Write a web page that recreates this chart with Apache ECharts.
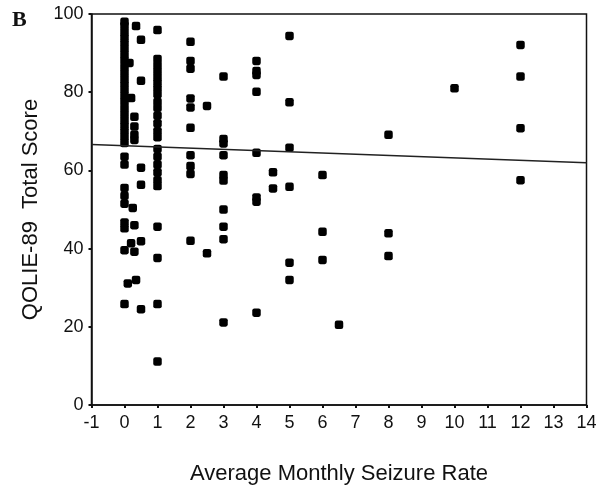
<!DOCTYPE html>
<html>
<head>
<meta charset="utf-8">
<script src="https://cdn.jsdelivr.net/npm/echarts@6/dist/echarts.min.js"></script>
<style>
html,body{margin:0;padding:0;background:#fff;}
#chart{width:598px;height:490px;}
</style>
</head>
<body>
<div id="chart"></div>
<script>
// Seizure-rate positions (x) and the QOLIE-89 scores plotted at each
const rates = [0, 0.1, 0.15, 0.2, 0.25, 0.3, 0.35, 0.5, 1, 2, 2.5, 3, 4, 4.5, 5, 6, 6.5, 8, 10, 12];
const scores0   = [98, 97, 95.5, 94, 92.5, 91, 89.5, 88, 86.5, 85, 83.5, 82, 80.5, 79, 77.5, 76, 74.5, 73, 71.5, 70, 68.5, 67, 63.5, 61.5, 55.5, 53.5, 51.5, 46.7, 45.2, 39.6, 25.8];
const scores0_1 = [31.1];
const scores0_15 = [87.5];
const scores0_2 = [78.5, 41.4];
const scores0_25 = [50.4];
const scores0_3 = [73.7, 71.2, 69.1, 67.8, 46.0, 39.2];
const scores0_35 = [96.9, 32.0];
const scores0_5 = [93.4, 82.9, 60.7, 56.3, 41.9, 24.5];
const scores1   = [95.9, 88.5, 87, 85.5, 84, 82.5, 81, 79.5, 77.5, 76, 74, 72, 70, 68.5, 65.5, 63.5, 61.5, 59.5, 57.5, 56, 45.6, 37.6, 25.8, 11.1];
const scores2   = [92.9, 88, 86, 78.4, 76.1, 70.9, 63.9, 61.1, 59.1, 42.0];
const scores2_5 = [76.5, 38.8];
const scores3   = [84.0, 68.0, 66.9, 63.9, 58.8, 57.4, 50.0, 45.6, 42.4, 21.1];
const scores4   = [88, 85.4, 84.4, 80.1, 64.5, 53.1, 52.0, 23.6];
const scores4_5 = [59.5, 55.4];
const scores5   = [94.4, 77.4, 65.8, 55.8, 36.4, 32.0];
const scores6   = [58.8, 44.3, 37.1];
const scores6_5 = [20.5];
const scores8   = [69.1, 43.9, 38.1];
const scores10  = [81.0];
const scores12  = [92.1, 84.0, 70.8, 57.5];
const scoreGroups = [scores0, scores0_1, scores0_15, scores0_2, scores0_25, scores0_3, scores0_35, scores0_5, scores1, scores2, scores2_5, scores3, scores4, scores4_5, scores5, scores6, scores6_5, scores8, scores10, scores12];

// Fitted regression line end points
const fitX = [-1, 14];
const fitY = [66.6, 61.95];

const xTicks = { min: -1, max: 14, interval: 1 };
const yTicks = { min: 0, max: 100, interval: 20 };

const points = [];
rates.forEach((r, i) => scoreGroups[i].forEach(s => points.push([r, s])));
const fitLine = fitX.map((x, i) => [x, fitY[i]]);

const chart = echarts.init(document.getElementById('chart'), null, { renderer: 'canvas' });
const axisFont = 'Liberation Sans, Arial, sans-serif';
chart.setOption({
  backgroundColor: '#fff',
  animation: false,
  graphic: [{
    type: 'text', left: 12, top: 9,
    style: { text: 'B', font: 'bold 22px "Liberation Serif", "Times New Roman", serif', fill: '#111' }
  }],
  grid: {
    left: 91.5, right: 11.5, top: 14, bottom: 85,
    containLabel: false, outerBoundsMode: 'none',
    show: true, borderColor: '#111', borderWidth: 1.5, backgroundColor: 'transparent'
  },
  xAxis: {
    type: 'value', min: xTicks.min, max: xTicks.max, interval: xTicks.interval,
    name: 'Average Monthly Seizure Rate', nameLocation: 'middle', nameGap: 58,
    nameTextStyle: { fontFamily: axisFont, fontSize: 22, color: '#111' },
    axisLine: { show: true, onZero: false, lineStyle: { color: '#111', width: 1.5 } },
    axisTick: { show: true, length: 3, lineStyle: { color: '#111', width: 2 } },
    axisLabel: { fontFamily: axisFont, fontSize: 18, color: '#111', margin: 9 },
    splitLine: { show: false }
  },
  yAxis: {
    type: 'value', min: yTicks.min, max: yTicks.max, interval: yTicks.interval,
    name: 'QOLIE-89  Total Score', nameLocation: 'middle', nameGap: 50, nameRotate: 90,
    nameTextStyle: { fontFamily: axisFont, fontSize: 22, color: '#111' },
    axisLine: { show: true, onZero: false, lineStyle: { color: '#111', width: 1.5 } },
    axisTick: { show: true, length: 3, lineStyle: { color: '#111', width: 2 } },
    axisLabel: { fontFamily: axisFont, fontSize: 18, color: '#111', margin: 8 },
    splitLine: { show: false }
  },
  series: [
    {
      type: 'scatter', data: points, symbol: 'roundRect', symbolSize: 8.5,
      itemStyle: { color: '#000', opacity: 1 }, silent: true
    },
    {
      type: 'line', data: fitLine, showSymbol: false, symbol: 'none',
      lineStyle: { color: '#222', width: 1.5 }, silent: true
    }
  ]
});
</script>
</body>
</html>
